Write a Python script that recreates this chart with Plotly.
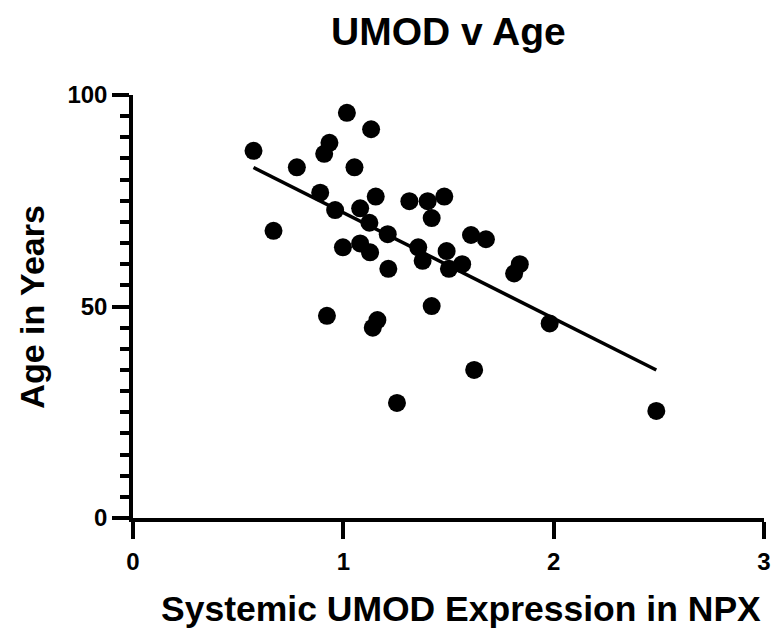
import numpy as np
import plotly.graph_objects as go

umod = [0.573, 0.668, 0.779, 0.890, 0.934, 0.909, 0.961, 0.922, 0.998, 1.017,
        1.053, 1.080, 1.080, 1.132, 1.124, 1.127, 1.154, 1.162, 1.140, 1.211,
        1.214, 1.255, 1.314, 1.356, 1.377, 1.401, 1.420, 1.420, 1.480, 1.491,
        1.502, 1.565, 1.607, 1.622, 1.678, 1.812, 1.839, 1.981, 2.488]
age = [86.8, 67.9, 82.9, 76.9, 88.7, 86.1, 72.8, 47.8, 64.0, 95.8,
       82.9, 73.2, 64.9, 91.9, 69.8, 62.8, 76.0, 46.8, 45.0, 67.1,
       58.9, 27.2, 74.9, 64.0, 60.8, 74.9, 70.9, 50.1, 76.0, 63.1,
       58.9, 60.0, 66.9, 35.0, 65.9, 57.8, 60.0, 46.0, 25.3]

x_ticks = [0, 1, 2, 3]
y_ticks = [0, 50, 100]

slope, intercept = np.polyfit(umod, age, 1)
fit_x = [min(umod), max(umod)]
fit_y = [slope * v + intercept for v in fit_x]

FONT = "Liberation Sans"
LW = 3.5

fig = go.Figure()
fig.add_trace(go.Scatter(x=fit_x, y=fit_y, mode="lines",
                         line=dict(color="black", width=3.5), hoverinfo="skip"))
fig.add_trace(go.Scatter(x=umod, y=age, mode="markers",
                         marker=dict(color="black", size=18, line=dict(width=0))))

W, H = 778, 636
L, R, T, B = 133, 7, 95, 118
PW, PH = W - L - R, H - T - B
fig.update_layout(
    width=W, height=H,
    margin=dict(l=L, r=R, t=T, b=B),
    plot_bgcolor="white", paper_bgcolor="white",
    showlegend=False,
    font=dict(family=FONT, color="black"),
    xaxis=dict(range=[0, 3], tickvals=x_ticks, ticktext=[str(v) for v in x_ticks],
               showgrid=False, zeroline=False, showline=True, linecolor="black",
               linewidth=LW, ticks="outside", ticklen=17, tickwidth=LW, tickcolor="black",
               tickfont=dict(size=24, family=FONT, weight="bold"), ticklabelstandoff=2),
    yaxis=dict(range=[0, 100], tickvals=y_ticks, ticktext=[str(v) for v in y_ticks],
               showgrid=False, zeroline=False, showline=True, linecolor="black",
               linewidth=LW, ticks="outside", ticklen=17, tickwidth=LW, tickcolor="black",
               tickfont=dict(size=24, family=FONT, weight="bold"), ticklabelstandoff=0,
               minor=dict(dtick=5, ticks="outside", ticklen=9, tickwidth=LW,
                          tickcolor="black", showgrid=False)),
    annotations=[
        dict(text="UMOD v Age", xref="paper", yref="paper", x=0.5, y=1 + (T - 31) / PH,
             xanchor="center", yanchor="middle", showarrow=False,
             font=dict(size=39, family=FONT, weight="bold")),
        dict(text="Systemic UMOD Expression in NPX", xref="paper", yref="paper",
             x=(465 - L) / PW, y=-(609 - T - PH) / PH,
             xanchor="center", yanchor="middle", showarrow=False,
             font=dict(size=35.5, family=FONT, weight="bold")),
        dict(text="Age in Years", xref="paper", yref="paper",
             x=-(L - 30) / PW, y=0.5, textangle=-90,
             xanchor="center", yanchor="middle", showarrow=False,
             font=dict(size=34, family=FONT, weight="bold")),
    ],
)

fig.write_html("out.html")
